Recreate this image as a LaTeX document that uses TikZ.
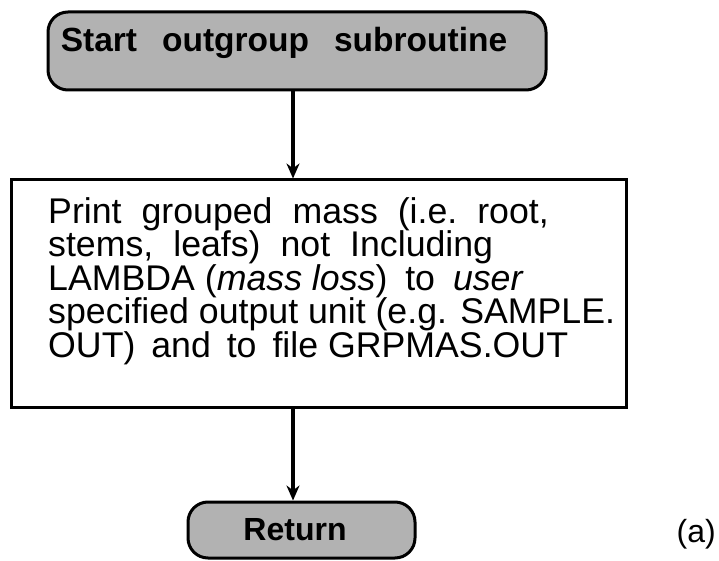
\documentclass[tikz,border=0pt]{standalone}
\usepackage{fontspec}
\setmainfont{Liberation Sans}
\usetikzlibrary{arrows.meta}
\newcommand\wsp{\hspace{20pt}}
\newcommand\tsp{\hspace{25pt}}
\begin{document}
\begin{tikzpicture}[x=1pt,y=-1pt,
  term/.style={draw,line width=3pt,rounded corners=20pt,fill=black!30,inner sep=0pt},
  proc/.style={draw,line width=3pt,inner sep=0pt},
  flow/.style={line width=4pt,-{Stealth[length=15pt,width=13pt]}}]
\useasboundingbox (0,0) rectangle (719,561);
\node[term,minimum width=498pt,minimum height=78pt] (start) at (297,51) {};
\node[font=\fontsize{33.5}{36}\selectfont\bfseries,anchor=base] (starttxt) at (284,52) {Start\tsp outgroup\tsp subroutine};
\node[proc,minimum width=615pt,minimum height=227pt] (print) at (318.5,293.5) {};
\node[anchor=base west,align=left,font=\fontsize{35.7}{33.5}\selectfont,inner sep=0pt] (txt) at (48,357)
 {Print\wsp grouped\wsp mass\wsp (i.e.\wsp root,\\ stems,\wsp leafs)\wsp not\wsp Including\\ LAMBDA ({\itshape mass loss})\hspace{8pt} to\hspace{8pt} {\itshape user}\\ specified output unit (e.g. SAMPLE.\\ OUT)\hspace{6pt} and\hspace{6pt} to\hspace{6pt} file GRPMAS.OUT};
\node[term,minimum width=227pt,minimum height=56pt] (ret) at (301.5,530) {};
\node[font=\fontsize{32}{34}\selectfont\bfseries,anchor=base] (rettxt) at (295,540) {Return};
\node[font=\fontsize{32}{34}\selectfont,anchor=base east,inner sep=0pt] (lab) at (716,542) {(a)};
\draw[flow] (start.south -| 293,0) -- (print.north -| 293,0);
\draw[flow] (print.south -| 293,0) -- (ret.north -| 293,0);
\end{tikzpicture}
\end{document}
